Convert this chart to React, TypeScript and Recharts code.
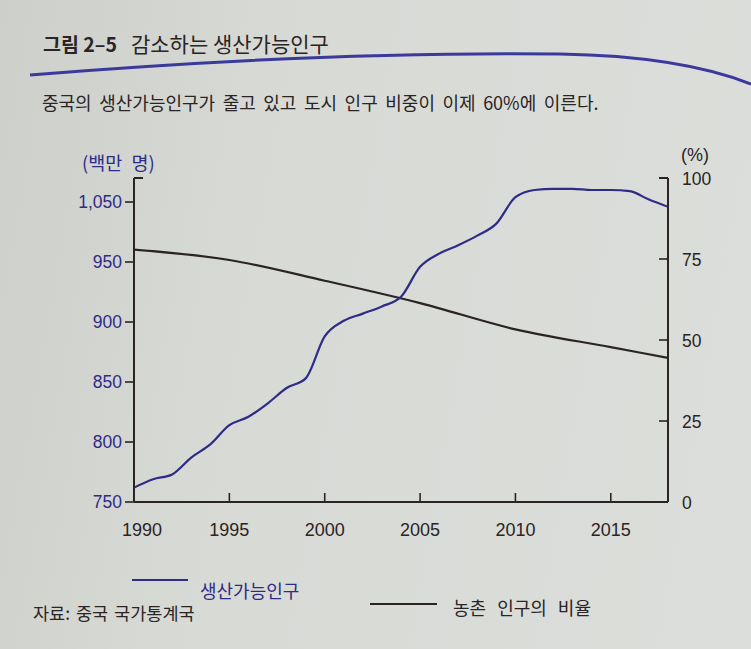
import React from 'react';
import { LineChart, Line, XAxis, YAxis } from 'recharts';

// 연도
const years = [
  1990, 1991, 1992, 1993, 1994, 1995, 1996, 1997, 1998, 1999,
  2000, 2001, 2002, 2003, 2004, 2005, 2006, 2007, 2008, 2009,
  2010, 2011, 2012, 2013, 2014, 2015, 2016, 2017, 2018,
];

// 생산가능인구 (백만 명)
const workingAge = [
  762, 769, 773, 787, 798, 814, 821, 832, 845, 853,
  888, 901, 907, 913, 921, 946, 957, 964, 972, 982,
  1004, 1010, 1011, 1011, 1010, 1010, 1009, 1002, 996,
];

// 농촌 인구의 비율 (%), only read at 5-year marks + last year
const ruralShare: (number | null)[] = [
  77.9, null, null, null, null, 74.7, null, null, null, null,
  68.3, null, null, null, null, 61.4, null, null, null, null,
  53.3, null, null, null, null, 47.8, null, null, 44.5,
];

const xTicks = [1990, 1995, 2000, 2005, 2010, 2015];
const leftTicks = [750, 800, 850, 900, 950, 1000];
// the printed labels (top one is printed as 1,050)
const leftTickLabels = ['750', '800', '850', '900', '950', '1,050'];
const rightTicks = [0, 25, 50, 75, 100];

const data = years.map((y, i) => ({ year: y, pop: workingAge[i], rural: ruralShare[i] }));

const BLUE = '#2e2c86';
const DARK = '#2a2424';
const NUM_FONT = '"Liberation Sans", Arial, sans-serif';
const KR_FONT = '"Noto Sans CJK KR", "Noto Sans", sans-serif';

const LeftTick = (props: any) => {
  const { x, y, payload } = props;
  const idx = leftTicks.indexOf(payload.value);
  if (idx < 0) {
    // cap at the top of the axis, pointing inward
    return <line x1={x} x2={x + 9} y1={y} y2={y} stroke={DARK} strokeWidth={2} />;
  }
  return (
    <g>
      <line x1={x - 9} x2={x} y1={y} y2={y} stroke={DARK} strokeWidth={1.6} />
      <text x={x - 12} y={y} dy={6} textAnchor="end" fill={BLUE} fontSize={17.5} fontFamily={NUM_FONT}>
        {leftTickLabels[idx]}
      </text>
    </g>
  );
};

const RightTick = (props: any) => {
  const { x, y, payload } = props;
  return (
    <g>
      <line x1={x - 9} x2={x} y1={y} y2={y} stroke={DARK} strokeWidth={payload.value === 100 ? 2 : 1.6} />
      <text x={x + 14} y={y} dy={7} textAnchor="start" fill={DARK} fontSize={17.5} fontFamily={NUM_FONT}>
        {payload.value}
      </text>
    </g>
  );
};

const BottomTick = (props: any) => {
  const { x, y, payload } = props;
  const first = payload.value === 1990;
  return (
    <g>
      {!first && <line x1={x} x2={x} y1={y - 9} y2={y} stroke={DARK} strokeWidth={1.6} />}
      <text x={first ? x + 8 : x} y={y + 34} textAnchor="middle" fill={DARK} fontSize={18} fontFamily={NUM_FONT}>
        {payload.value}
      </text>
    </g>
  );
};

const App: React.FC = () => {
  return (
    <div
      style={{
        position: 'fixed',
        left: 0,
        top: 0,
        width: 751,
        height: 649,
        background: 'linear-gradient(100deg, #cdcfcb 0%, #d8dad6 35%, #dcdedb 100%)',
        overflow: 'hidden',
        fontFamily: KR_FONT,
        color: DARK,
      }}
    >
      {/* 제목 */}
      <div style={{ position: 'absolute', left: 43, top: 28, whiteSpace: 'nowrap' }}>
        <span style={{ fontWeight: 700, fontSize: 19.5 }}>그림 2–5</span>
        <span style={{ marginLeft: 14, fontSize: 21 }}>감소하는 생산가능인구</span>
      </div>
      <svg width={751} height={100} style={{ position: 'absolute', left: 0, top: 0 }}>
        <path d="M30 75 Q 330 51, 560 54 Q 680 56, 751 84" stroke="#3b3a9c" strokeWidth={3} fill="none" />
      </svg>
      <div style={{ position: 'absolute', left: 42, top: 89, fontSize: 18, wordSpacing: 3.5, whiteSpace: 'nowrap' }}>
        중국의 생산가능인구가 줄고 있고 도시 인구 비중이 이제 60%에 이른다.
      </div>

      {/* 단위 */}
      <div style={{ position: 'absolute', left: 82, top: 149, fontSize: 18.5, wordSpacing: 5, color: BLUE, whiteSpace: 'nowrap' }}>
        (백만 명)
      </div>
      <div style={{ position: 'absolute', left: 681, top: 145, fontSize: 18, fontFamily: NUM_FONT }}>(%)</div>

      <div style={{ position: 'absolute', left: 0, top: 0 }}>
        <LineChart
          width={751}
          height={649}
          data={data}
          margin={{ top: 178, right: 23, bottom: 107, left: 74 }}
        >
          <XAxis
            dataKey="year"
            type="number"
            domain={[1990, 2018]}
            ticks={xTicks}
            height={40}
            tickSize={0}
            tickMargin={0}
            tickLine={false}
            tick={<BottomTick />}
            axisLine={{ stroke: DARK, strokeWidth: 2 }}
            allowDataOverflow
          />
          <YAxis
            yAxisId="left"
            orientation="left"
            type="number"
            domain={[750, 1020]}
            ticks={[...leftTicks, 1020]}
            width={60}
            tickSize={0}
            tickMargin={0}
            tickLine={false}
            tick={<LeftTick />}
            axisLine={{ stroke: DARK, strokeWidth: 2 }}
            allowDataOverflow
          />
          <YAxis
            yAxisId="right"
            orientation="right"
            type="number"
            domain={[0, 100]}
            ticks={rightTicks}
            width={60}
            tickSize={0}
            tickMargin={0}
            tickLine={false}
            tick={<RightTick />}
            axisLine={{ stroke: DARK, strokeWidth: 2 }}
          />
          <Line
            yAxisId="right"
            type="monotone"
            dataKey="rural"
            stroke={DARK}
            strokeWidth={2.2}
            dot={false}
            connectNulls
            isAnimationActive={false}
          />
          <Line
            yAxisId="left"
            type="monotone"
            dataKey="pop"
            stroke={BLUE}
            strokeWidth={2.2}
            dot={false}
            isAnimationActive={false}
          />
        </LineChart>
      </div>

      {/* 범례 */}
      <div style={{ position: 'absolute', left: 132, top: 579, width: 56, height: 2, background: BLUE }} />
      <div style={{ position: 'absolute', left: 200, top: 577, fontSize: 18, color: BLUE, whiteSpace: 'nowrap' }}>
        생산가능인구
      </div>
      <div style={{ position: 'absolute', left: 370, top: 603, width: 67, height: 2, background: DARK }} />
      <div style={{ position: 'absolute', left: 453, top: 594, fontSize: 18, wordSpacing: 7, whiteSpace: 'nowrap' }}>
        농촌 인구의 비율
      </div>

      {/* 자료 */}
      <div style={{ position: 'absolute', left: 33, top: 600, fontSize: 17.5, wordSpacing: 2, whiteSpace: 'nowrap' }}>
        자료: 중국 국가통계국
      </div>
    </div>
  );
};

export default App;
